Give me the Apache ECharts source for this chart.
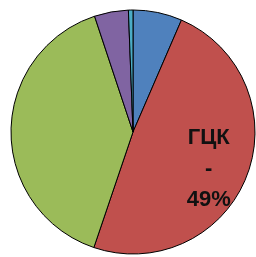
<!DOCTYPE html>
<html>
<head>
<meta charset="utf-8">
<script src="https://cdn.jsdelivr.net/npm/echarts@6/dist/echarts.min.js"></script>
<style>
  html, body { margin: 0; padding: 0; background: #fff; }
  #pie { width: 256px; height: 257px; }
</style>
</head>
<body>
<div id="pie"></div>
<script>
// доли фаз, по часовой стрелке от 12 часов
var names = ['1', 'ГЦК', '3', '4', '5'];
var values = [6.5, 48.7, 39.7, 4.5, 0.6];
var colors = ['#4F81BD', '#C0504D', '#9BBB59', '#8064A2', '#4BACC6'];
var labelled = 'ГЦК';

var pieDom = document.getElementById('pie');
var pieChart = echarts.init(pieDom);

var data = names.map(function (n, i) {
  var item = { name: n, value: values[i], itemStyle: { color: colors[i] } };
  if (n === labelled) {
    item.label = {
      show: true,
      position: 'inside',
      formatter: '{b}\n-\n' + Math.round(values[i]) + '%',
      fontFamily: 'Liberation Sans, Arial, sans-serif',
      fontWeight: 'bold',
      fontSize: 22,
      lineHeight: 31,
      color: '#111',
      padding: [0, 0, 0, 32],
      offset: [0, 14]
    };
  }
  return item;
});

var pieoption = {
  animation: false,
  series: [
    {
      type: 'pie',
      center: [133, 132],
      radius: 122,
      startAngle: 90,
      clockwise: true,
      label: { show: false },
      labelLine: { show: false },
      itemStyle: { borderColor: '#000', borderWidth: 1 },
      emphasis: { disabled: true },
      data: data
    }
  ]
};
pieChart.setOption(pieoption);
</script>
</body>
</html>
